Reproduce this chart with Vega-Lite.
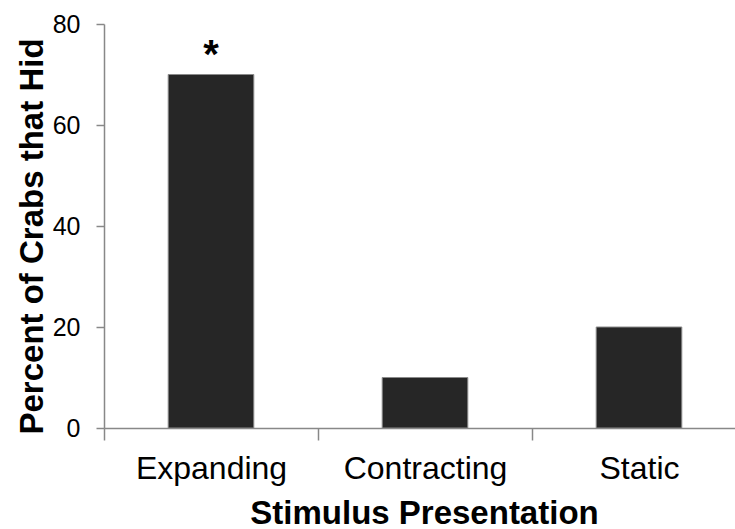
{
  "$schema": "https://vega.github.io/schema/vega-lite/v6.json",
  "width": 631,
  "height": 404,
  "autosize": "none",
  "padding": {"left": 104, "top": 24, "right": 0, "bottom": 101},
  "background": "white",
  "config": {"view": {"stroke": null}, "font": "Liberation Sans"},
  "data": {"values": [
    {"stimulus": "Expanding", "percent": 70, "sig": "*"},
    {"stimulus": "Contracting", "percent": 10, "sig": ""},
    {"stimulus": "Static", "percent": 20, "sig": ""}
  ]},
  "encoding": {
    "x": {
      "field": "stimulus", "type": "nominal", "sort": null,
      "scale": {"range": [0, 642], "paddingInner": 0, "paddingOuter": 0},
      "axis": {
        "title": "Stimulus Presentation",
        "titleFont": "Liberation Sans", "titleFontSize": 33, "titleFontWeight": "bold", "titleColor": "#000",
        "titleBaseline": "alphabetic", "titleX": 320, "titleY": 95,
        "labelFont": "Liberation Sans", "labelFontSize": 32, "labelColor": "#000", "labelAngle": 0,
        "labelBaseline": "alphabetic", "labelPadding": 38,
        "tickBand": "extent", "tickSize": 12, "tickColor": "#888", "tickWidth": 1.5,
        "domainColor": "#888", "domainWidth": 1.5, "grid": false
      }
    },
    "y": {
      "field": "percent", "type": "quantitative",
      "scale": {"domain": [0, 80]},
      "axis": {
        "title": "Percent of Crabs that Hid",
        "titleFont": "Liberation Sans", "titleFontSize": 33, "titleFontWeight": "bold", "titleColor": "#000",
        "titleBaseline": "alphabetic", "titleAngle": -90, "titleAlign": "center", "titleX": -62, "titleY": 212,
        "values": [0, 20, 40, 60, 80],
        "labelFont": "Liberation Sans", "labelFontSize": 25, "labelColor": "#000", "labelPadding": 16,
        "tickSize": 8, "tickColor": "#888", "tickWidth": 1.5,
        "domainColor": "#888", "domainWidth": 1.5, "grid": false
      }
    }
  },
  "layer": [
    {"mark": {"type": "bar", "width": {"band": 0.4}, "fill": "#262626", "stroke": "#8a8a8a", "strokeWidth": 1}},
    {"mark": {"type": "text", "font": "Liberation Sans", "fontSize": 40, "fontWeight": "bold", "baseline": "alphabetic", "dy": -7, "color": "#000"},
     "encoding": {"text": {"field": "sig"}}}
  ]
}
